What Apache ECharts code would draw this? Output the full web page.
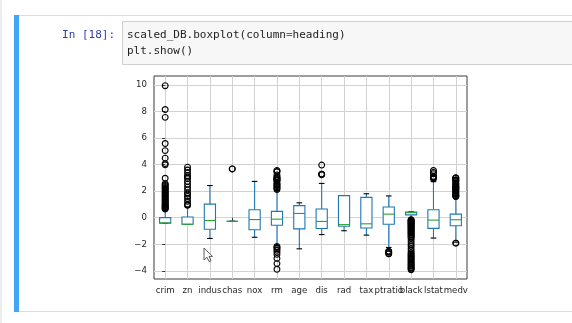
<!DOCTYPE html>
<html>
<head>
<meta charset="utf-8">
<script src="https://cdn.jsdelivr.net/npm/echarts@6/dist/echarts.min.js"></script>
<style>
html,body{margin:0;padding:0;background:#fff;}
#chart{width:572px;height:323px;}
</style>
</head>
<body>
<div id="chart"></div>
<script>
// ---- data ----
const categories = ['crim','zn','indus','chas','nox','rm','age','dis','rad','tax','ptratio','black','lstat','medv'];
const yTicks = [-4, -2, 0, 2, 4, 6, 8, 10];

const boxMin = [-0.42, -0.49, -1.56, -0.27, -1.47, -2.10, -2.34, -1.27, -0.98, -1.31, -2.24, -0.13, -1.53, -1.84];
const boxQ1  = [-0.41, -0.49, -0.87, -0.27, -0.91, -0.57, -0.84, -0.81, -0.64, -0.77, -0.49,  0.21, -0.80, -0.60];
const boxMed = [-0.39, -0.49, -0.21, -0.27, -0.14, -0.11,  0.32, -0.28, -0.52, -0.46,  0.27,  0.38, -0.18, -0.15];
const boxQ3  = [ 0.01,  0.05,  1.02, -0.27,  0.60,  0.48,  0.91,  0.66,  1.66,  1.53,  0.81,  0.43,  0.60,  0.27];
const boxMax = [ 0.62,  0.80,  2.42, -0.27,  2.73,  2.03,  1.12,  2.58,  1.66,  1.80,  1.64,  0.44,  2.71,  1.58];

const crimOut = [9.93, 8.14, 7.55, 5.58, 5.05, 4.48, 4.07, 3.98, 2.97, 2.56, 2.49, 2.43, 2.35, 2.28, 2.21, 2.14, 2.06, 1.99, 1.91, 1.85, 1.77, 1.71, 1.62, 1.57, 1.50, 1.41, 1.36, 1.28, 1.23, 1.15, 1.09, 1.02, 0.97, 0.91, 0.86, 0.80, 0.76, 0.71, 0.68, 0.65];
const znOut = [0.93, 0.97, 1.01, 1.23, 1.44, 1.60, 1.77, 1.87, 2.09, 2.30, 2.52, 2.73, 2.94, 3.05, 3.16, 3.37, 3.59, 3.80];
const indusOut = [];
const chasOut = [3.67, 3.67];
const noxOut = [];
const rmOut = [3.56, 3.48, 3.45, 3.22, 3.09, 3.01, 2.98, 2.92, 2.86, 2.82, 2.79, 2.66, 2.54, 2.50, 2.41, 2.33, 2.26, 2.19, 2.11, -2.17, -2.24, -2.33, -2.45, -2.59, -2.76, -3.06, -3.45, -3.88];
const ageOut = [];
const disOut = [3.96, 3.28, 3.28, 3.22];
const radOut = [];
const taxOut = [];
const ptratioOut = [-2.52, -2.55, -2.61, -2.71, -2.71];
const blackOut = [-0.14, -0.19, -0.23, -0.27, -0.32, -0.36, -0.42, -0.45, -0.51, -0.55, -0.61, -0.67, -0.71, -0.78, -0.82, -0.89, -0.93, -1.01, -1.06, -1.13, -1.18, -1.26, -1.32, -1.41, -1.47, -1.56, -1.71, -1.87, -2.03, -2.16, -2.34, -2.48, -2.63, -2.71, -2.81, -2.87, -2.96, -3.02, -3.11, -3.17, -3.27, -3.32, -3.42, -3.48, -3.57, -3.63, -3.73, -3.78, -3.86, -3.91];
const lstatOut = [3.55, 3.41, 3.31, 3.10, 3.05, 3.04, 2.99, 2.93];
const medvOut = [2.99, 2.99, 2.99, 2.86, 2.83, 2.80, 2.72, 2.63, 2.55, 2.49, 2.42, 2.34, 2.31, 2.28, 2.24, 2.21, 2.15, 2.09, 2.04, 1.96, 1.88, 1.81, 1.76, 1.67, 1.64, 1.61, 1.60, -1.91, -1.91];

// ---- build series data ----
const boxData = categories.map((c, i) => [i, boxMin[i], boxQ1[i], boxMed[i], boxQ3[i], boxMax[i]]);
const outLists = [crimOut, znOut, indusOut, chasOut, noxOut, rmOut, ageOut, disOut, radOut, taxOut, ptratioOut, blackOut, lstatOut, medvOut];
const outData = [];
outLists.forEach((arr, i) => arr.forEach(v => outData.push([i, v])));
const catIdx = categories.map((c, i) => i);

const chart = echarts.init(document.getElementById('chart'), null, {renderer: 'canvas'});
const BLUE = '#1f77b4', GREEN = '#2ca02c';
const tickFont = {fontFamily: 'DejaVu Sans', fontSize: 8.6, color: '#262626'};

chart.setOption({
  animation: false,
  backgroundColor: '#fff',
  grid: {left: 154, top: 76, width: 313, height: 203, show: true, borderColor: '#3a3a3a', borderWidth: 1, backgroundColor: 'transparent', containLabel: false},
  xAxis: {
    type: 'value', min: -0.5, max: 13.5,
    axisLine: {show: false},
    axisTick: {show: true, length: 3, customValues: catIdx, lineStyle: {color: '#333'}},
    axisLabel: Object.assign({show: true, margin: 7, customValues: catIdx, hideOverlap: false,
      formatter: v => categories[Math.round(v)] || ''}, tickFont),
    splitLine: {show: true, lineStyle: {color: '#d2d2d2', width: 1}}
  },
  yAxis: {
    type: 'value', min: -4.61, max: 10.66,
    axisLine: {show: false},
    axisTick: {show: true, length: 3, customValues: yTicks, lineStyle: {color: '#333'}},
    axisLabel: Object.assign({show: true, margin: 7, customValues: yTicks,
      formatter: v => String(v).replace('-', '\u2212')}, tickFont),
    splitLine: {show: true, lineStyle: {color: '#d2d2d2', width: 1}}
  },
  series: [
    {
      type: 'custom',
      data: boxData,
      encode: {x: 0, y: [1, 2, 3, 4, 5]},
      z: 2,
      renderItem: function (params, api) {
        const idx = api.value(0);
        const band = api.size([1, 0])[0];
        const half = band * 0.25;
        const capHalf = band * 0.125;
        const x = api.coord([idx, 0])[0];
        const yMin = api.coord([idx, api.value(1)])[1];
        const yQ1 = api.coord([idx, api.value(2)])[1];
        const yMed = api.coord([idx, api.value(3)])[1];
        const yQ3 = api.coord([idx, api.value(4)])[1];
        const yMax = api.coord([idx, api.value(5)])[1];
        const blue = {stroke: BLUE, lineWidth: 1.1, fill: null};
        const cap = {stroke: '#000', lineWidth: 1.1, fill: null};
        return {type: 'group', children: [
          {type: 'line', shape: {x1: x, y1: yQ1, x2: x, y2: yMin}, style: blue},
          {type: 'line', shape: {x1: x, y1: yQ3, x2: x, y2: yMax}, style: blue},
          {type: 'line', shape: {x1: x - capHalf, y1: yMin, x2: x + capHalf, y2: yMin}, style: cap},
          {type: 'line', shape: {x1: x - capHalf, y1: yMax, x2: x + capHalf, y2: yMax}, style: cap},
          {type: 'rect', shape: {x: x - half, y: yQ3, width: 2 * half, height: yQ1 - yQ3}, style: {stroke: BLUE, lineWidth: 1.1, fill: '#fff'}},
          {type: 'line', shape: {x1: x - half, y1: yMed, x2: x + half, y2: yMed}, style: {stroke: GREEN, lineWidth: 1.1}}
        ]};
      }
    },
    {
      type: 'scatter',
      data: outData,
      z: 3,
      symbol: 'circle',
      symbolSize: 5.8,
      itemStyle: {color: 'rgba(0,0,0,0)', borderColor: '#000', borderWidth: 1.1, opacity: 1}
    }
  ],
  graphic: [
    {type: 'rect', shape: {x: 0, y: 0, width: 2, height: 323}, style: {fill: '#ececec'}, silent: true},
    {type: 'rect', shape: {x: 14, y: 15, width: 560, height: 1}, style: {fill: '#dcdcdc'}, silent: true},
    {type: 'rect', shape: {x: 14, y: 311, width: 560, height: 1}, style: {fill: '#dcdcdc'}, silent: true},
    {type: 'rect', shape: {x: 14, y: 15, width: 5, height: 297}, style: {fill: '#42A5F5'}, silent: true},
    {type: 'rect', shape: {x: 122.5, y: 21.5, width: 470, height: 43}, style: {fill: '#f7f7f7', stroke: '#cfcfcf', lineWidth: 1}, silent: true},
    {type: 'text', x: 115, y: 35, silent: true,
      style: {text: 'In [18]:', fill: '#303F9F', font: '11px "DejaVu Sans Mono"', align: 'right', verticalAlign: 'middle'}},
    {type: 'text', x: 127, y: 35, silent: true,
      style: {text: '{a|scaled_DB.boxplot(column}{b|=}{a|heading)}', verticalAlign: 'middle', align: 'left',
        rich: {a: {fill: '#222', font: '11px "DejaVu Sans Mono"'}, b: {fill: '#AA22FF', font: '11px "DejaVu Sans Mono"'}}}},
    {type: 'text', x: 127, y: 51, silent: true,
      style: {text: 'plt.show()', fill: '#222', font: '11px "DejaVu Sans Mono"', align: 'left', verticalAlign: 'middle'}},
    {type: 'polygon', silent: true, z: 100,
      shape: {points: [[204, 248], [204, 260], [207, 257.3], [209, 261.5], [211, 260.6], [209, 256.4], [212.5, 256.4]]},
      style: {fill: '#fff', stroke: '#333', lineWidth: 0.8}}
  ]
});
</script>
</body>
</html>
